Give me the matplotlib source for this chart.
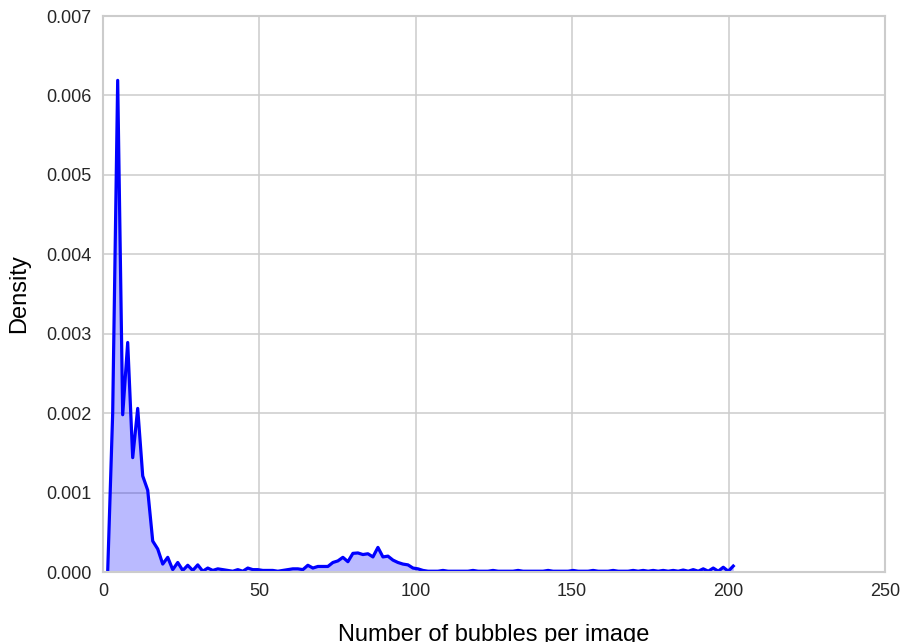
import numpy as np
import matplotlib
matplotlib.use("Agg")
import matplotlib.pyplot as plt

# bin centres (uniform grid of counts)
x_start, x_end, n_pts = 1.5, 201.5, 126

density = [
    0.0, 0.0020, 0.00619, 0.00198, 0.00289, 0.00144, 0.00206, 0.00121, 0.00103, 0.00039,
    0.00029, 0.00010, 0.000185, 0.00003, 0.00012, 0.00002, 0.000085, 0.00002, 0.00009, 0.00001,
    0.00005, 0.00002, 0.00004, 0.00003, 0.00002, 0.00001, 0.00003, 0.00001, 0.00005, 0.00003,
    0.00003, 0.00002, 0.00002, 0.00002, 0.00001, 0.00002, 0.00003, 0.00004, 0.00004, 0.00003,
    0.000085, 0.00005, 0.00007, 0.00007, 0.00007, 0.00012, 0.00014, 0.000185, 0.00013, 0.000235,
    0.00024, 0.00022, 0.00023, 0.00019, 0.00031, 0.00019, 0.00020, 0.00015, 0.00012, 0.00010,
    0.00009, 0.00005, 0.00004, 0.00002, 0.00001, 0.00001, 0.00001, 0.00002, 0.00001, 0.00001,
    0.00001, 0.00001, 0.00001, 0.00002, 0.00001, 0.00001, 0.00001, 0.00002, 0.00001, 0.00001,
    0.00001, 0.00001, 0.00002, 0.00001, 0.00001, 0.00001, 0.00001, 0.00001, 0.00002, 0.00001,
    0.00001, 0.00001, 0.00001, 0.00002, 0.00001, 0.00001, 0.00001, 0.00002, 0.00001, 0.00001,
    0.00001, 0.00002, 0.00001, 0.00001, 0.00001, 0.00002, 0.00001, 0.00002, 0.00001, 0.00002,
    0.00001, 0.00002, 0.00001, 0.00002, 0.00001, 0.000025, 0.00001, 0.00003, 0.00001, 0.00004,
    0.00001, 0.00005, 0.00001, 0.00006, 0.00001, 0.000075,
]

x_ticks = [0, 50, 100, 150, 200, 250]
y_ticks = [0.000, 0.001, 0.002, 0.003, 0.004, 0.005, 0.006, 0.007]

x = np.linspace(x_start, x_end, n_pts)
y = np.array(density)

plt.rcParams['font.family'] = ['Liberation Sans', 'DejaVu Sans']

fig = plt.figure(figsize=(9.01, 6.42), dpi=100)
ax = fig.add_axes([0.1143, 0.109, 0.8679, 0.866])

ax.fill_between(x, 0, y, color=(0.0, 0.0, 1.0), alpha=0.27, linewidth=0)
ax.plot(x, y, color=(0.0, 0.0, 1.0), linewidth=2.3)

ax.set_xlim(0, 250)
ax.set_ylim(0, 0.007)
ax.set_xticks(x_ticks)
ax.set_yticks(y_ticks)
ax.set_xticklabels([str(t) for t in x_ticks])
ax.set_yticklabels([f"{t:.3f}" for t in y_ticks])

ax.grid(True, color='#cccccc', linewidth=1.1)
ax.set_axisbelow(True)
for s in ax.spines.values():
    s.set_color('#cccccc')
    s.set_linewidth(1.5)
ax.tick_params(axis='both', length=0, labelsize=13, colors='#262626', pad=8)

ax.set_xlabel('Number of bubbles per image', fontsize=17, color='black', labelpad=17)
ax.set_ylabel('Density', fontsize=17, color='black', labelpad=12)

fig.savefig('out.png', dpi=100)
